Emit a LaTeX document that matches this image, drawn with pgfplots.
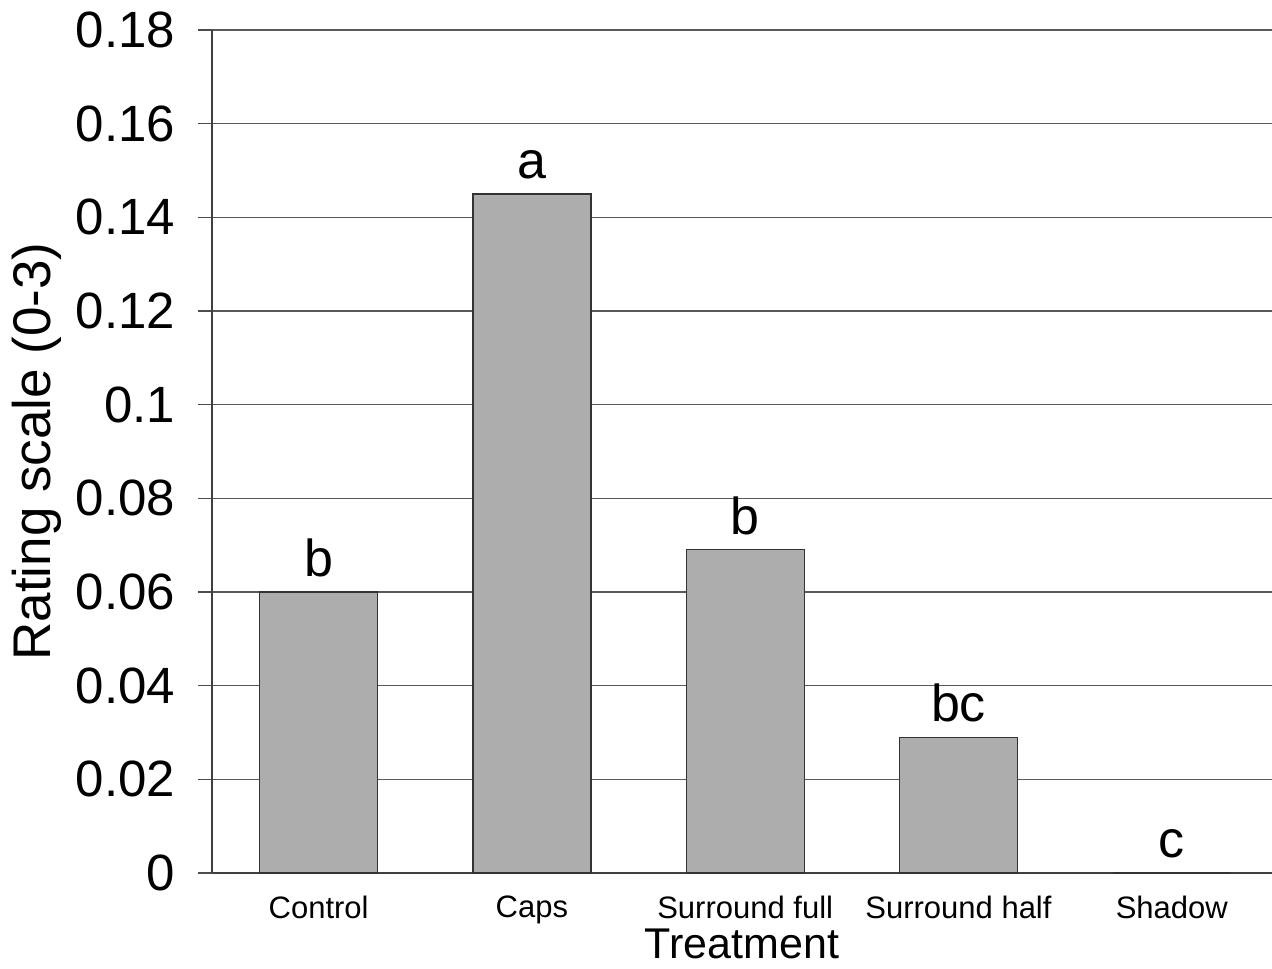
\documentclass[border=0pt]{standalone}
\usepackage{pgfplots}
\pgfplotsset{compat=1.18}
\usepackage{fontspec}
\setmainfont{Liberation Sans}
\begin{document}
\begin{tikzpicture}
\begin{axis}[
  at={(0,0)}, anchor=south west,
  scale only axis,
  width=530pt, height=421.5pt,
  xmin=-0.5, xmax=4.47,
  ymin=0, ymax=0.18,
  axis x line=bottom, axis y line=left,
  axis line style={-, black!75, line width=0.6pt},
  xtick={0,1,2,3,4},
  xticklabels={Control,Caps,Surround full,Surround half,Shadow},
  xtick style={draw=none},
  ytick={0,0.02,0.04,0.06,0.08,0.1,0.12,0.14,0.16,0.18},
  yticklabels={0,0.02,0.04,0.06,0.08,0.1,0.12,0.14,0.16,0.18},
  tick align=outside, major tick length=7pt,
  ytick style={black!70, line width=0.6pt},
  ymajorgrids,
  grid style={black!65, line width=0.6pt},
  yticklabel style={font=\fontsize{25.5}{29}\selectfont, xshift=-8pt},
  xticklabel style={font=\fontsize{15.5}{18}\selectfont, yshift=-1pt},
  xlabel={Treatment},
  ylabel={Rating scale (0-3)},
  xlabel style={font=\fontsize{21.5}{24}\selectfont, inner sep=1pt, yshift=2pt},
  ylabel style={font=\fontsize{26.5}{30}\selectfont, yshift=0pt},
  ybar, bar width=59pt,
  point meta=explicit symbolic,
  nodes near coords,
  nodes near coords style={font=\fontsize{26}{30}\selectfont, anchor=south, black, yshift=4pt},
]
\addplot[fill=black!32, draw=black!80, line width=0.6pt] coordinates {
  (0,0.060) [b]
  (1,0.145) [a]
  (2,0.069) [b]
  (3,0.029) [bc]
  (4,0.000) [c]
};
\end{axis}
\pgfresetboundingbox
\useasboundingbox (-106pt,-47.5pt) rectangle (530pt,436.5pt);
\end{tikzpicture}
\end{document}
